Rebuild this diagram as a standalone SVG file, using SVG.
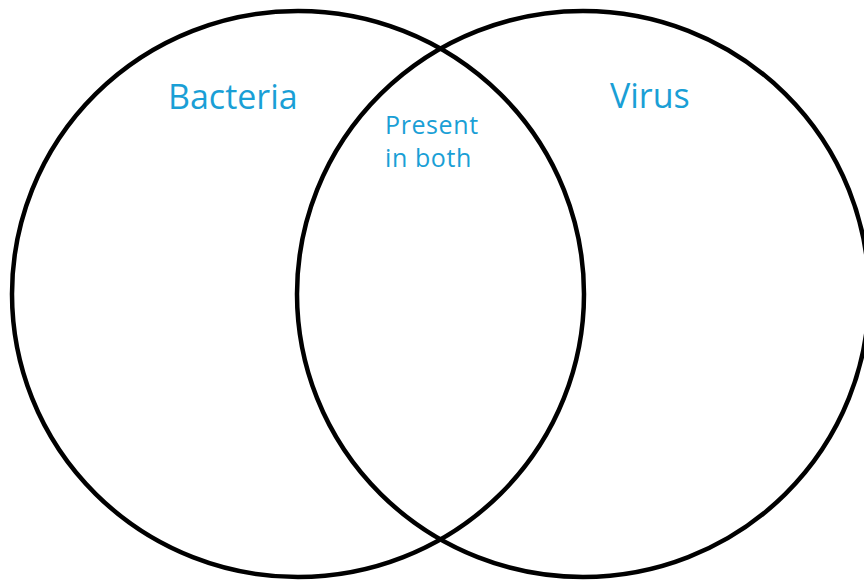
<svg xmlns="http://www.w3.org/2000/svg" width="864" height="580" viewBox="0 0 864 580">
<style>
.c{fill:none;stroke:#000;stroke-width:4.5}
.t{font-family:"Open Sans","Noto Sans",sans-serif;fill:#1a9fd6}
</style>
<rect width="864" height="580" fill="#fff"/>
<g id="bacteria">
<ellipse class="c" cx="298" cy="294" rx="286" ry="283"/>
<text class="t" x="168" y="109" font-size="34">Bacteria</text>
</g>
<g id="virus">
<ellipse class="c" cx="583" cy="294" rx="286" ry="283"/>
<text class="t" x="610" y="108" font-size="34">Virus</text>
</g>
<g id="both">
<text class="t" x="385" y="134" font-size="25" letter-spacing="0.6">Present</text>
<text class="t" x="385" y="167" font-size="25" letter-spacing="0.6">in both</text>
</g>
<g id="connectors"/>
</svg>
